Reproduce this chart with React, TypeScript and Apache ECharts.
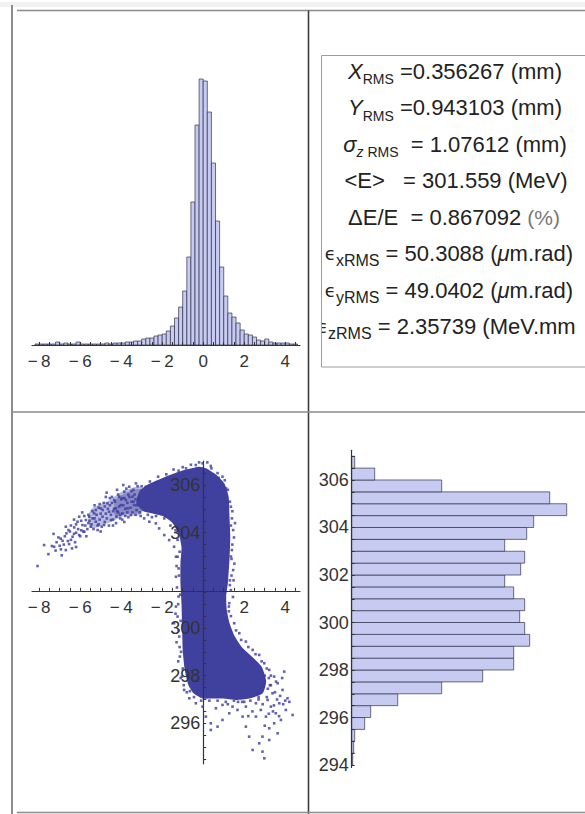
import React, { useEffect, useRef } from "react";
import * as echarts from "echarts";

// ---------- data ----------
// top-left histogram (x distribution, mm)
const xHistBinStart = -8.2;
const xHistBinWidth = 0.2;
const xHistCounts = [
  1, 1, 1, 1, 1, 3, 1, 2, 1, 1,
  3, 1, 1, 1, 1, 1, 1, 2, 1, 2,
  2, 2, 3, 3, 4, 4, 6, 7, 7, 9,
  10, 11, 14, 19, 27, 38, 54, 88, 143, 220,
  266, 264, 233, 182, 124, 78, 49, 32, 28, 22,
  15, 11, 10, 8, 5, 4, 6, 3, 2, 2,
  2, 2, 1, 1,
];
const xLabelValues = [-8, -6, -4, -2, 0, 2, 4];
const xScatterLabelValues = [-8, -6, -4, -2, 2, 4];
const xTickValues = [
  -8, -7.5, -7, -6.5, -6, -5.5, -5, -4.5, -4, -3.5, -3, -2.5, -2, -1.5, -1, -0.5,
  0, 0.5, 1, 1.5, 2, 2.5, 3, 3.5, 4, 4.5,
];

// bottom-right histogram (energy distribution, MeV)
const eHistBinStart = 294;
const eHistBinWidth = 0.5;
const eHistCounts = [
  1, 2, 3, 13, 19, 46, 90, 131, 162, 162,
  178, 173, 168, 173, 162, 153, 169, 173, 153, 175,
  182, 215, 198, 90, 23, 3,
];
const eHistLabelValues = [294, 296, 298, 300, 302, 304, 306];
const eScatterLabelValues = [296, 298, 300, 304, 306];
const eTickValues = [
  294, 294.5, 295, 295.5, 296, 296.5, 297, 297.5, 298, 298.5, 299, 299.5, 300,
  300.5, 301, 301.5, 302, 302.5, 303, 303.5, 304, 304.5, 305, 305.5, 306, 306.5, 307,
];
const eMean = 301.559;

// scatter (x, E): dense core outline, arm outlines and individual points
const coreOutline: [number, number][] = [
  [-3.1, 305.75], [-2.63, 306.05], [-1.98, 306.3], [-1.33, 306.52], [-0.68, 306.68],
  [-0.19, 306.77], [0.14, 306.7], [0.65, 306.42], [1.04, 306.05], [1.24, 305.5],
  [1.28, 304.67], [1.32, 303.83], [1.28, 302.85], [1.2, 301.87], [1.12, 301.32],
  [1.15, 300.75], [1.28, 300.22], [1.51, 299.7], [1.9, 299.18], [2.4, 298.78],
  [2.86, 298.36], [3.07, 297.76], [2.9, 297.26], [2.24, 297.04], [1.59, 296.98],
  [0.94, 297.04], [0.37, 297.04], [-0.03, 297.04], [-0.46, 297.25], [-0.72, 297.6],
  [-0.9, 298.24], [-1.0, 299.08], [-1.03, 300.06], [-1.06, 301.04], [-1.11, 301.87],
  [-1.11, 302.71], [-1.06, 303.39], [-1.19, 303.92], [-1.51, 304.42], [-1.98, 304.7],
  [-2.47, 304.81], [-2.92, 304.9], [-3.26, 305.22],
];
const armOutline: [number, number][] = [
  [-5.5, 304.95], [-4.6, 305.35], [-3.9, 305.75], [-3.0, 305.9],
  [-3.0, 304.8], [-3.9, 304.68], [-4.6, 304.42], [-5.5, 304.2],
];
const armInnerOutline: [number, number][] = [
  [-4.3, 305.35], [-3.7, 305.7], [-3.0, 305.8],
  [-3.0, 304.9], [-3.7, 304.8], [-4.3, 304.7],
];
const armPoints: [number, number][] = [
  [-8.08, 302.6], [-7.55, 303.1], [-7.38, 303.44], [-7.76, 303.48], [-7.27, 303.41],
  [-6.94, 303.3], [-6.86, 303.66], [-7.06, 303.8], [-6.67, 303.97], [-6.54, 303.52],
  [-6.4, 303.34], [-6.7, 303.27], [-6.57, 304.11], [-6.37, 303.83], [-6.29, 304.22],
  [-6.13, 304.46], [-6.05, 303.9], [-5.89, 304.32], [-5.72, 304.53], [-5.8, 304.04],
  [-5.56, 304.67], [-5.48, 304.25], [-5.32, 304.81], [-5.24, 304.46], [-5.15, 304.11],
  [-5.24, 304.95], [-6.05, 304.67], [-4.99, 305.02], [-4.91, 304.67], [-4.83, 304.32],
  [-4.67, 305.23], [-4.59, 304.88], [-4.5, 304.53], [-4.71, 305.68], [-4.34, 305.37],
  [-4.26, 305.02], [-4.23, 304.67], [-4.1, 305.51], [-4.02, 305.16], [-3.94, 304.81],
  [-3.85, 305.72], [-3.77, 305.37], [-3.69, 305.02], [-3.61, 305.93], [-3.53, 304.74],
  [-3.45, 305.51], [-3.37, 305.16], [-5.6, 304.4], [-5.0, 304.8], [-4.8, 305.1],
  [-4.4, 304.9], [-4.45, 305.25], [-4.15, 304.85], [-3.95, 305.45], [-3.8, 305.0],
  [-3.65, 305.6], [-3.5, 305.3], [-5.95, 304.1], [-6.2, 304.0], [-6.45, 304.3],
  [-5.4, 304.6], [-5.1, 304.35], [-4.7, 304.6], [-3.3, 305.4], [-3.25, 304.95],
  [-3.4, 305.8], [-3.7, 304.85], [-4.05, 304.6], [-4.55, 305.45], [-5.05, 305.2],
  [-2.15, 304.18], [-1.9, 303.9], [-2.31, 304.39], [-2.63, 304.46], [-2.88, 304.6],
  [-1.66, 303.69], [-1.42, 303.41], [-1.33, 302.99], [-2.5, 304.65], [-3.05, 304.7],
  [-7.2, 303.25], [-7.15, 303.6], [-7.0, 303.45], [-6.95, 303.75], [-6.8, 303.5],
  [-6.75, 303.85], [-6.6, 303.65], [-6.5, 304.05], [-6.45, 303.7], [-6.3, 303.95],
  [-6.25, 303.6], [-6.2, 304.35], [-6.1, 304.15], [-6.0, 303.85], [-5.95, 304.5],
  [-5.85, 304.05], [-5.8, 304.7], [-5.75, 304.3], [-5.65, 304.15], [-5.6, 304.75],
  [-5.55, 304.5], [-5.45, 304.35], [-5.4, 304.9], [-5.35, 304.15], [-5.3, 304.6],
  [-5.2, 304.75], [-5.15, 304.3], [-5.1, 305.05], [-5.05, 304.55], [-4.95, 304.25],
  [-4.9, 304.95], [-4.85, 305.25], [-4.8, 304.45], [-4.75, 304.8], [-4.65, 305.0],
  [-4.6, 304.3], [-4.55, 305.15], [-4.5, 304.75], [-4.45, 305.5], [-4.4, 304.55],
  [-4.35, 305.0], [-4.3, 305.3], [-4.25, 304.4], [-4.2, 304.9], [-4.15, 305.6],
  [-4.1, 305.1], [-4.05, 304.75], [-4.0, 305.4], [-3.95, 304.55], [-3.9, 305.15],
  [-3.85, 305.45], [-3.8, 304.7], [-3.75, 305.85], [-3.7, 305.25], [-3.65, 304.65],
  [-3.6, 305.5], [-3.55, 305.05], [-3.5, 305.75], [-3.45, 304.85], [-3.4, 305.3],
  [-3.35, 305.6], [-3.3, 304.75], [-3.25, 305.15], [-3.2, 305.95], [-3.15, 305.45],
  [-5.9, 304.85], [-5.3, 305.15], [-4.75, 305.5], [-4.2, 305.8], [-3.9, 306.0],
  [-6.3, 304.55], [-6.7, 304.25], [-7.3, 303.95], [-5.7, 303.85], [-5.0, 304.05],
  [-4.4, 304.3], [-3.85, 304.45], [-6.9, 303.05], [-6.2, 303.4],
];
const edgePoints: [number, number][] = [
  [-0.03, 306.91], [-0.36, 306.84], [0.37, 306.8], [-0.84, 306.7], [0.94, 306.35],
  [1.11, 305.86], [-1.66, 306.21], [-2.31, 306.07], [-2.8, 305.93], [-3.28, 306.07],
  [0.2, 306.95], [-1.2, 306.6], [0.7, 306.5], [1.35, 305.09], [1.46, 304.11],
  [1.4, 303.27], [1.46, 302.43], [1.35, 301.59], [1.27, 301.04], [1.4, 304.6],
  [1.38, 302.9], [1.3, 302.0], [1.25, 300.7], [-1.25, 302.99], [-1.33, 302.15],
  [-1.2, 301.32], [-1.25, 300.48], [-1.17, 299.64], [-1.14, 298.8], [-1.04, 297.96],
  [-0.93, 297.4], [-1.33, 300.9], [-1.42, 300.2], [-1.2, 302.5], [-1.15, 299.2],
  [1.3, 305.3], [1.42, 304.9], [1.35, 304.3], [1.5, 303.8], [1.42, 303.5],
  [1.35, 303.0], [1.52, 302.7], [1.38, 302.2], [1.3, 301.8], [1.45, 301.3],
  [1.25, 300.9], [1.35, 300.5], [1.55, 304.4], [1.48, 302.0], [-1.15, 303.2],
  [-1.3, 302.6], [-1.18, 302.2], [-1.28, 301.7], [-1.12, 301.4], [-1.22, 301.0],
  [-1.35, 300.6], [-1.1, 300.3], [-1.2, 299.9], [-1.3, 299.4], [-1.08, 299.0],
  [-1.22, 298.6], [-1.0, 298.3], [-1.1, 297.9], [-0.95, 297.6], [-0.8, 297.3],
  [-3.0, 305.95], [-2.6, 306.15], [-2.2, 306.35], [-1.8, 306.45], [-1.45, 306.65],
  [-1.0, 306.75], [-0.6, 306.85], [-0.2, 306.95], [0.4, 306.7], [0.75, 306.3],
  [1.05, 306.2], [1.2, 305.8], [-3.1, 304.85], [-2.7, 304.75], [-2.3, 304.7],
  [-1.9, 304.6], [-1.6, 304.3], [-1.35, 304.1], [-1.25, 303.7],
];
const tailPoints: [number, number][] = [
  [1.51, 300.2], [1.76, 299.78], [2.08, 299.43], [2.41, 299.08], [2.73, 298.87],
  [2.98, 298.52], [3.22, 298.24], [3.46, 297.96], [3.95, 298.17], [3.63, 297.68],
  [3.87, 297.4], [4.11, 297.05], [4.36, 296.35], [4.03, 296.56], [3.71, 296.84],
  [3.54, 296.42], [3.3, 296.7], [3.79, 296.14], [3.46, 296.0], [3.22, 295.79],
  [3.06, 296.28], [2.81, 296.56], [2.57, 296.28], [2.89, 295.44], [2.73, 295.16],
  [2.89, 294.81], [2.98, 294.53], [2.24, 295.44], [2.08, 295.86], [1.92, 296.28],
  [1.67, 296.56], [1.27, 296.42], [0.94, 296.14], [0.7, 295.86], [0.37, 296.0],
  [0.13, 296.28], [0.62, 296.63], [-0.03, 296.7], [-0.36, 296.84], [-0.68, 297.05],
  [3.38, 297.26], [3.14, 296.98], [2.57, 296.84], [2.08, 296.7], [1.43, 296.7],
  [0.94, 296.77], [3.63, 295.58], [3.22, 295.3], [2.41, 294.88], [3.3, 297.6],
  [3.5, 297.3], [3.1, 297.1], [2.7, 297.0], [3.6, 297.0], [3.9, 296.8],
  [3.4, 296.5], [2.9, 296.8], [3.7, 296.3], [3.2, 296.4], [2.4, 296.5],
  [2.0, 296.9], [1.7, 296.9], [1.2, 296.8], [2.2, 296.3], [3.0, 295.9],
  [4.2, 296.9], [3.85, 297.9], [3.2, 297.9], [3.0, 298.0], [0.37, 295.72],
  [1.6, 299.9], [1.85, 299.5], [2.2, 299.2], [2.55, 298.9], [2.85, 298.6],
  [3.1, 298.3], [3.3, 298.0], [3.25, 297.6], [2.7, 297.1], [2.3, 296.95],
  [1.9, 296.9], [1.5, 296.95], [1.1, 296.9], [0.7, 296.95], [0.3, 296.95],
  [-0.1, 296.95], [-0.45, 297.1], [-0.65, 297.35], [3.55, 297.75], [3.15, 297.45],
  [2.95, 297.55], [2.6, 297.25], [3.75, 297.15], [4.0, 296.95], [3.45, 296.75],
];

// statistics box lines
const statLines = [
  "{i|X}{s|RMS}{n| =0.356267 (mm)}",
  "{i|Y}{s|RMS}{n| =0.943103 (mm)}",
  "{i|σ}{si|z}{s| RMS}{n|  = 1.07612 (mm)}",
  "{n|<E>   = 301.559 (MeV)}",
  "{n|ΔE/E  = 0.867092 }{p|(%)}",
  "{e|ϵ}{t|xRMS}{n| = 50.3088 (}{i|μ}{n|m.rad)}",
  "{e|ϵ}{t|yRMS}{n| = 49.0402 (}{i|μ}{n|m.rad)}",
  "{e|ϵ}{t|zRMS}{n| = 2.35739 (MeV.mm}",
];

// ---------- layout / style ----------
const FONT = '"Liberation Sans", Arial, Helvetica, sans-serif';
const HIST_FILL = "#c7cbf1";
const HIST_EDGE = "rgba(45,45,70,0.85)";
const DOT = "#3b3ba0";
const AXIS = "#333";

const xMin = -8.35;
const xMax = 4.72;
const sYMin = 294.3;
const sYMax = 307.0;
const eHMin = 293.9;
const eHMax = 307.25;

const histGrid = { left: 32, top: 55, width: 268, height: 290 };
const scatGrid = { left: 32, top: 461.2, width: 268, height: 302.6 };
const eGrid = { left: 351.7, top: 450.3, width: 233.3, height: 317.1 };
const xAxisY = scatGrid.top + ((sYMax - eMean) / (sYMax - sYMin)) * scatGrid.height;
const yAxisX = scatGrid.left + ((0 - xMin) / (xMax - xMin)) * scatGrid.width;

const minus = (v: number) => (v < 0 ? "\u2212\u2009" + String(-v) : String(v));

const visibleX = (grid: number, labels: number[]) => ({
  gridIndex: grid,
  type: "value",
  min: xMin,
  max: xMax,
  position: "bottom",
  z: 4,
  axisLine: { show: true, onZero: false, lineStyle: { color: AXIS, width: 1.2 } },
  axisTick: { show: true, inside: true, length: 3, customValues: xTickValues, lineStyle: { color: AXIS } },
  axisLabel: { show: true, customValues: labels, formatter: minus, margin: 8, fontSize: 17, fontFamily: FONT, color: "#333" },
  splitLine: { show: false },
});

const visibleY = (grid: number, min: number, max: number, labels: number[]) => ({
  gridIndex: grid,
  type: "value",
  min,
  max,
  position: "left",
  z: 4,
  axisLine: { show: true, onZero: false, lineStyle: { color: AXIS, width: 1.2 } },
  axisTick: { show: true, inside: true, length: 3, customValues: eTickValues.filter((v) => v > min && v < max), lineStyle: { color: AXIS } },
  axisLabel: { show: true, customValues: labels, margin: 3, fontSize: 18, fontFamily: FONT, color: "#333" },
  splitLine: { show: false },
});

const hidden = (grid: number, min: number, max: number) => ({
  gridIndex: grid,
  type: "value",
  min,
  max,
  show: false,
  splitLine: { show: false },
});

const rich = {
  n: { fontSize: 22, fontFamily: FONT, fill: "#222", lineHeight: 30 },
  i: { fontSize: 22, fontFamily: FONT, fontStyle: "italic", fill: "#222", lineHeight: 30 },
  s: { fontSize: 14, fontFamily: FONT, fill: "#222", lineHeight: 18, verticalAlign: "bottom" },
  t: { fontSize: 16, fontFamily: FONT, fill: "#222", lineHeight: 20, verticalAlign: "bottom" },
  si: { fontSize: 14, fontFamily: FONT, fontStyle: "italic", fill: "#222", lineHeight: 18, verticalAlign: "bottom" },
  e: { fontSize: 18, fontFamily: '"DejaVu Sans", sans-serif', fill: "#222", lineHeight: 30 },
  p: { fontSize: 21, fontFamily: FONT, fill: "#777", lineHeight: 30 },
};

const lineYs = [71, 107.5, 144, 180.5, 217, 253.5, 290, 326.5];
const lineXs = [455, 455, 455, 456, 454, 449, 449, 317];

function buildOption() {
  const texts: any[] = statLines.map((t, k) => {
    const last = k === statLines.length - 1;
    return {
      type: "text",
      x: lineXs[k],
      y: lineYs[k],
      z: 5,
      style: { text: t, rich, align: last ? "left" : "center", verticalAlign: "middle", fill: "#222", font: `22px ${FONT}` },
    };
  });

  const line = (x1: number, y1: number, x2: number, y2: number, stroke: string, w: number) => ({
    type: "line",
    z: 20,
    silent: true,
    shape: { x1, y1, x2, y2 },
    style: { stroke, lineWidth: w },
  });

  const poly = (outline: [number, number][], api: any, fill: string, smooth: number) => ({
    type: "polygon",
    shape: { points: outline.map((p) => api.coord(p)), smooth },
    style: { fill },
  });

  return {
    animation: false,
    backgroundColor: "#fff",
    grid: [
      { ...histGrid },
      { ...scatGrid },
      { left: scatGrid.left, top: scatGrid.top, width: scatGrid.width, height: xAxisY - scatGrid.top },
      { left: yAxisX, top: scatGrid.top, width: scatGrid.left + scatGrid.width - yAxisX, height: scatGrid.height },
      { ...eGrid },
    ],
    xAxis: [
      visibleX(0, xLabelValues),
      hidden(1, xMin, xMax),
      visibleX(2, xScatterLabelValues),
      hidden(3, 0, 1),
      hidden(4, 0, eGrid.width),
    ],
    yAxis: [
      hidden(0, 0, histGrid.height),
      hidden(1, sYMin, sYMax),
      hidden(2, 0, 1),
      visibleY(3, sYMin, sYMax, eScatterLabelValues),
      visibleY(4, eHMin, eHMax, eHistLabelValues),
    ],
    series: [
      {
        type: "custom",
        xAxisIndex: 0,
        yAxisIndex: 0,
        z: 2,
        encode: { x: [0, 1], y: 2 },
        data: xHistCounts.map((c, i) => [xHistBinStart + i * xHistBinWidth, xHistBinStart + (i + 1) * xHistBinWidth, c]),
        renderItem: (_p: any, api: any) => {
          const a = api.coord([api.value(0), api.value(2)]);
          const b = api.coord([api.value(1), 0]);
          return {
            type: "rect",
            shape: { x: a[0], y: a[1], width: b[0] - a[0], height: b[1] - a[1] },
            style: { fill: HIST_FILL, stroke: HIST_EDGE, lineWidth: 0.8 },
          };
        },
      },
      {
        type: "custom",
        xAxisIndex: 4,
        yAxisIndex: 4,
        z: 2,
        encode: { y: [0, 1], x: 2 },
        data: eHistCounts.map((c, i) => [eHistBinStart + i * eHistBinWidth, eHistBinStart + (i + 1) * eHistBinWidth, c]),
        renderItem: (_p: any, api: any) => {
          const a = api.coord([0, api.value(1)]);
          const b = api.coord([api.value(2), api.value(0)]);
          return {
            type: "rect",
            shape: { x: a[0], y: a[1], width: b[0] - a[0], height: b[1] - a[1] },
            style: { fill: HIST_FILL, stroke: HIST_EDGE, lineWidth: 0.8 },
          };
        },
      },
      {
        type: "custom",
        xAxisIndex: 1,
        yAxisIndex: 1,
        z: 1,
        data: [[0, 300]],
        renderItem: (_p: any, api: any) => ({
          type: "group",
          children: [
            poly(armOutline, api, "rgba(60,60,158,0.36)", 0.3),
            poly(armInnerOutline, api, "rgba(60,60,158,0.38)", 0.3),
            poly(coreOutline, api, "#40409f", 0.2),
          ],
        }),
      },
      {
        type: "scatter",
        xAxisIndex: 1,
        yAxisIndex: 1,
        z: 6,
        symbol: "rect",
        symbolSize: 2.6,
        itemStyle: { color: DOT },
        data: [...armPoints, ...edgePoints, ...tailPoints],
      },
    ],
    graphic: [
      { type: "rect", z: 0, silent: true, shape: { x: 0, y: 2, width: 585, height: 5 }, style: { fill: "#f2f2f2" } },
      ...texts,
      { type: "rect", z: 6, silent: true, shape: { x: 310, y: 312, width: 11.5, height: 30 }, style: { fill: "#fff" } },
      { type: "rect", z: 7, silent: true, shape: { x: 321.5, y: 55.5, width: 300, height: 311.5 }, style: { fill: "none", stroke: "#9c9c9c", lineWidth: 1 } },
      line(12, 5, 12, 814, "#8c8c8c", 2),
      line(17, 10.5, 585, 10.5, "#8c8c8c", 1.6),
      line(308.5, 10.5, 308.5, 814, "#3c3c3c", 1.6),
      line(12, 412, 585, 412, "#8c8c8c", 1.6),
      line(17, 812.5, 585, 812.5, "#8c8c8c", 1.6),
    ],
  };
}

export default function App() {
  const ref = useRef<HTMLDivElement>(null);
  useEffect(() => {
    if (!ref.current) return;
    const chart = echarts.init(ref.current, null, { renderer: "svg" });
    chart.setOption(buildOption() as any);
    return () => chart.dispose();
  }, []);
  return (
    <div
      ref={ref}
      style={{ position: "fixed", left: 0, top: 0, width: 585, height: 814, background: "#fff" }}
    />
  );
}
